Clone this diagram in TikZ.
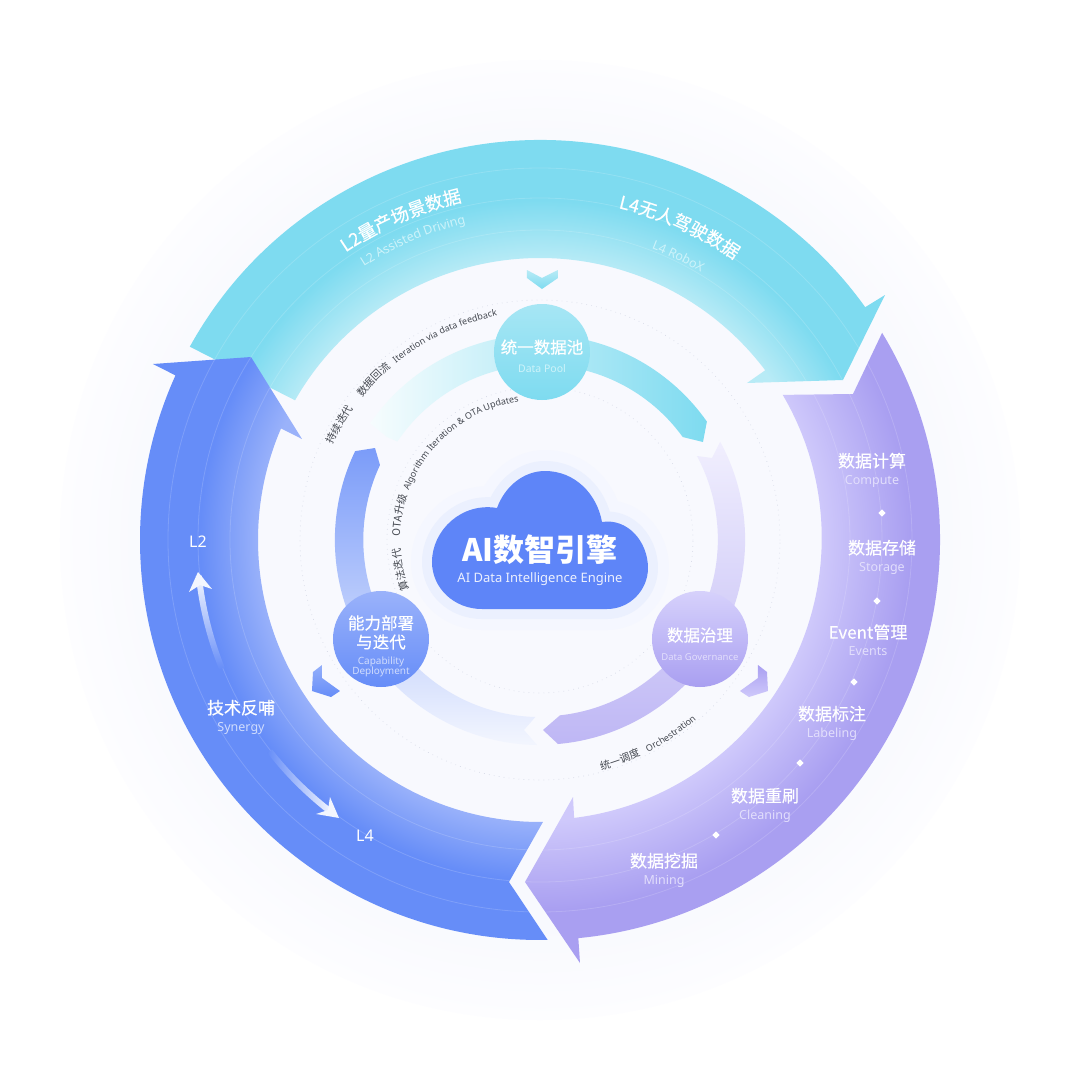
\documentclass[tikz,border=0pt]{standalone}
\usepackage{fontspec}
\setmainfont{Noto Sans}
\newfontfamily\zh[FakeBold=.35]{Noto Sans CJK SC}
\newfontfamily\zhthin{Noto Sans CJK SC}
\usetikzlibrary{decorations.text}

\definecolor{cyanin}{HTML}{B8EBF6}
\definecolor{cyanout}{HTML}{7EDBF0}
\definecolor{violetin}{HTML}{CFC9FB}
\definecolor{violetout}{HTML}{A99FF1}
\definecolor{bluein}{HTML}{9AB2FA}
\definecolor{blueout}{HTML}{668DF8}
\definecolor{pagetint}{HTML}{F8F9FE}
\definecolor{rimtint}{HTML}{FDFDFF}
\definecolor{cloudblue}{HTML}{5E85F8}
\definecolor{dotgrey}{HTML}{D5D9E6}
\definecolor{capgrey}{HTML}{444850}
\definecolor{violetsub}{HTML}{E2DEFC}
\definecolor{bluesub}{HTML}{D0DCFD}
\definecolor{cyansub}{HTML}{CDF3FA}

\pgfdeclareradialshading{backdrop}{\pgfpoint{0bp}{0bp}}{color(0bp)=(pagetint); color(20bp)=(pagetint); color(25bp)=(rimtint); color(50bp)=(rimtint)}
\pgfdeclareradialshading{cyanring}{\pgfpoint{0bp}{0bp}}{color(0bp)=(cyanin); color(14bp)=(cyanin); color(17bp)=(cyanout); color(50bp)=(cyanout)}
\pgfdeclareradialshading{violetring}{\pgfpoint{0bp}{0bp}}{color(0bp)=(violetin); color(14bp)=(violetin); color(18.5bp)=(violetout); color(50bp)=(violetout)}
\pgfdeclareradialshading{bluering}{\pgfpoint{0bp}{0bp}}{color(0bp)=(bluein); color(14bp)=(bluein); color(17bp)=(blueout); color(50bp)=(blueout)}

\newcommand{\zhbig}{\fontsize{18}{18}\selectfont\zh}
\newcommand{\ensub}{\fontsize{12.5}{12.5}\selectfont}
\newcommand{\zhcap}{\fontsize{10.5}{10.5}\selectfont\zhthin}
\newcommand{\encap}{\fontsize{9}{9}\selectfont}
% zh line over en line
\newcommand{\duo}[3]{{\zh #2}\\{\fontsize{12.5}{17}\selectfont\color{#1}#3}}
\newcommand{\cloudpath}{(-58,-69) .. controls (-86,-69) and (-108,-48) .. (-108,-22) .. controls (-108,10) and (-78,38) .. (-43,32) .. controls (-35,54) and (-16,69) .. (5,69) .. controls (35,69) and (57,46) .. (62,18) .. controls (88,22) and (108,-2) .. (108,-28) .. controls (108,-50) and (90,-69) .. (67,-69) -- cycle}
% big arrow, clipped ring shading with the thin lines on it
\newcommand{\bigarrow}[2]{\begin{scope}
		\clip #2;
		\shade [shading=#1] (0,0) circle (500);
		\foreach \r in {310,342,372} \draw [white, opacity=.16, line width=.8] (0,0) circle (\r);
	\end{scope}}

\tikzset{
	ringlabel/.style={text=white, align=center, font=\fontsize{17}{17}\selectfont},
	hub/.style={circle, minimum size=96, inner sep=0},
	hubtext/.style={text=white, align=center, inner sep=0, font=\fontsize{16.5}{18}\selectfont},
	gem/.style={fill=white, rotate=45, minimum size=5, inner sep=0},
	dotring/.style={dotgrey, line width=.9, line cap=round, dash pattern=on 0pt off 5pt},
	curvetxt/.style n args={3}{decorate, decoration={text along path, text align=center, text color=#1, text={|#2|#3}}},
}

\begin{document}
\begin{tikzpicture}[x=1pt, y=1pt]
	\useasboundingbox (-540,-540) rectangle (540,540);
	\fill [white] (-540,-540) rectangle (540,540);
	\shade [shading=backdrop] (0,0) circle (480);
	\draw [dotring] (0,0) circle (240);
	\draw [dotring] (0,0) circle (153);

	%big arrows
	\bigarrow{cyanring}{(151.1:400) arc [start angle=151.1, end angle=35.6, radius=400] -- (345,245) -- (303,160) -- (207,157) -- (37:282) arc [start angle=37, end angle=150.3, radius=282] -- cycle}
	\bigarrow{violetring}{(31.2:400) arc [start angle=31.2, end angle=-84.5, radius=400] -- (40,-423) -- (-15,-342) -- (33,-257) -- (-83:280) arc [start angle=-83, end angle=30.5, radius=282] -- (313,146) -- cycle}
	\bigarrow{bluering}{(271.1:400) arc [start angle=271.1, end angle=155.7, radius=400] -- (-387,176) -- (-289,183) -- (-238,101) -- (156.7:282) arc [start angle=156.7, end angle=270.6, radius=282] -- (-31,-342) -- cycle}

	%inner bands
	\shade [left color=cyanin!12!white, middle color=cyanin!75!white, right color=cyanout] (145.5:206) arc [start angle=145.5, end angle=35.1, radius=205] -- (163,98) -- (35.8:176) arc [start angle=35.8, end angle=146, radius=174] -- (-153,103) -- cycle;
	\shade [top color=violetin!30!white, bottom color=violetout!75!white] (180,98) -- (172,82) -- (157,84) arc [start angle=28.1, end angle=-83.8, radius=177] -- (3,-190) -- (18,-204) arc [start angle=-85, end angle=28.6, radius=205] -- cycle;
	\shade [top color=blueout!60!bluein, bottom color=bluein!12!white] (-3,-205) arc [start angle=269.2, end angle=154.3, radius=205] -- (-165,92) -- (-160,75) arc [start angle=154.9, end angle=268.4, radius=177] -- (-16,-190) -- cycle;

	%chevrons
	\shade [top color=cyanin, bottom color=cyanout] (-13,270) -- (2,262) -- (18,270) -- (18,262) -- (2,251) -- (-13,262) -- cycle;
	\shade [top color=blueout!70!white, bottom color=blueout] (-218,-125) -- (-218,-138) -- (-200,-151) -- (-209,-157) -- (-228,-151) -- (-227,-132) -- cycle;
	\shade [top color=violetout, bottom color=violetin] (218,-125) -- (218,-138) -- (200,-151) -- (209,-157) -- (228,-151) -- (227,-132) -- cycle;

	%cloud
	\draw [line width=42, line join=round, color=bluein!10!white] \cloudpath;
	\draw [line width=20, line join=round, color=bluein!20!white] \cloudpath;
	\fill [cloudblue] \cloudpath;
	\node (title) [text=white, font=\fontsize{31}{31}\selectfont\zhthin\bfseries] at (0,-10) {AI数智引擎};
	\node (titlesub) [text=white!88!cloudblue, font=\fontsize{13}{13}\selectfont] at (0,-39) {AI Data Intelligence Engine};

	%hubs
	\node (pool) [hub, top color=cyanin!70!cyanout, bottom color=cyanout] at (2,188) {};
	\node (gov) [hub, shading angle=-35, top color=violetin!85!white, bottom color=violetout] at (160,-99) {};
	\node (cap) [hub, shading angle=-35, top color=bluein, bottom color=blueout] at (-159,-99) {};
	\node (pooltext) [hubtext] at (2,184) {{\zh 统一数据池}\\[1pt]{\fontsize{10.5}{12}\selectfont\color{cyansub}Data Pool}};
	\node (govtext) [hubtext] at (160,-104) {{\zh 数据治理}\\[1pt]{\fontsize{9.5}{12}\selectfont\color{violetsub}Data Governance}};
	\node (captext) [hubtext] at (-159,-106) {{\zh 能力部署}\\[1pt]{\zh 与迭代}\\[-2pt]{\fontsize{10}{9}\selectfont\color{bluesub}Capability}\\[-8pt]{\fontsize{10}{9}\selectfont\color{bluesub}Deployment}};

	%violet labels
	\node (compute) [ringlabel] at (332,70) {\duo{violetsub}{数据计算}{Compute}};
	\node (storage) [ringlabel] at (342,-17) {\duo{violetsub}{数据存储}{Storage}};
	\node (events) [ringlabel] at (328,-100) {\duo{violetsub}{Event管理}{Events}};
	\node (labeling) [ringlabel] at (292,-183) {\duo{violetsub}{数据标注}{Labeling}};
	\node (cleaning) [ringlabel] at (225,-265) {\duo{violetsub}{数据重刷}{Cleaning}};
	\node (mining) [ringlabel] at (124,-330) {\duo{violetsub}{数据挖掘}{Mining}};
	\node (gem1) [gem] at (342,27) {};
	\node (gem2) [gem] at (337,-61) {};
	\node (gem3) [gem] at (314,-142) {};
	\node (gem4) [gem] at (260,-223) {};
	\node (gem5) [gem] at (176,-295) {};

	%blue labels and arrows
	\node (ltwo) [ringlabel, font=\fontsize{16}{16}\selectfont] at (-342,-2) {L2};
	\node (lfour) [ringlabel, font=\fontsize{16}{16}\selectfont] at (-175,-296) {L4};
	\node (synergy) [ringlabel] at (-299,-177) {\duo{bluesub}{技术反哺}{Synergy}};
	\shade [bottom color=blueout, top color=white!92!blueout] (202:340) arc [start angle=202, end angle=186, radius=340] -- (186:346) arc [start angle=186, end angle=202, radius=346] -- cycle;
	\fill [white!92!blueout] (-342,-32) -- (-351,-52) -- (-340,-45) -- (-328,-49) -- cycle;
	\shade [left color=blueout, right color=white!90!blueout] (218:340) arc [start angle=218, end angle=232, radius=340] -- (232:346) arc [start angle=232, end angle=218, radius=346] -- cycle;
	\fill [white!92!blueout] (-201,-278) -- (-210,-257) -- (-212,-270) -- (-224,-274) -- cycle;

	%text on the arcs
	\path [curvetxt={white}{\zhbig}{L2量产场景数据}] (138.5:347) arc [start angle=138.5, end angle=88.5, radius=347];
	\path [curvetxt={cyansub}{\ensub}{L2 Assisted Driving}] (143:325) arc [start angle=143, end angle=83, radius=325];
	\path [curvetxt={white}{\zhbig}{L4无人驾驶数据}] (91:341) arc [start angle=91, end angle=41, radius=341];
	\path [curvetxt={cyansub}{\ensub}{L4 RoboX}] (84:312) arc [start angle=84, end angle=44, radius=312];
	\path [curvetxt={capgrey}{\zhcap}{持续迭代}] (165:228) arc [start angle=165, end angle=135, radius=228];
	\path [curvetxt={capgrey}{\zhcap}{数据回流}] (150:228) arc [start angle=150, end angle=122, radius=228];
	\path [curvetxt={capgrey}{\encap}{Iteration via data feedback}] (140:228) arc [start angle=140, end angle=90, radius=228];
	\path [curvetxt={capgrey}{\zhcap}{算法迭代}] (212:140) arc [start angle=212, end angle=172, radius=140];
	\path [curvetxt={capgrey}{\zhcap}{OTA升级}] (190:140) arc [start angle=190, end angle=150, radius=140];
	\path [curvetxt={capgrey}{\encap}{Algorithm Iteration {\&} OTA Updates}] (169:140) arc [start angle=169, end angle=89, radius=140];
	\path [curvetxt={capgrey}{\zhcap}{统一调度}] (-85:238) arc [start angle=-85, end angle=-55, radius=238];
	\path [curvetxt={capgrey}{\encap}{Orchestration}] (-70:238) arc [start angle=-70, end angle=-42, radius=238];
\end{tikzpicture}
\end{document}
